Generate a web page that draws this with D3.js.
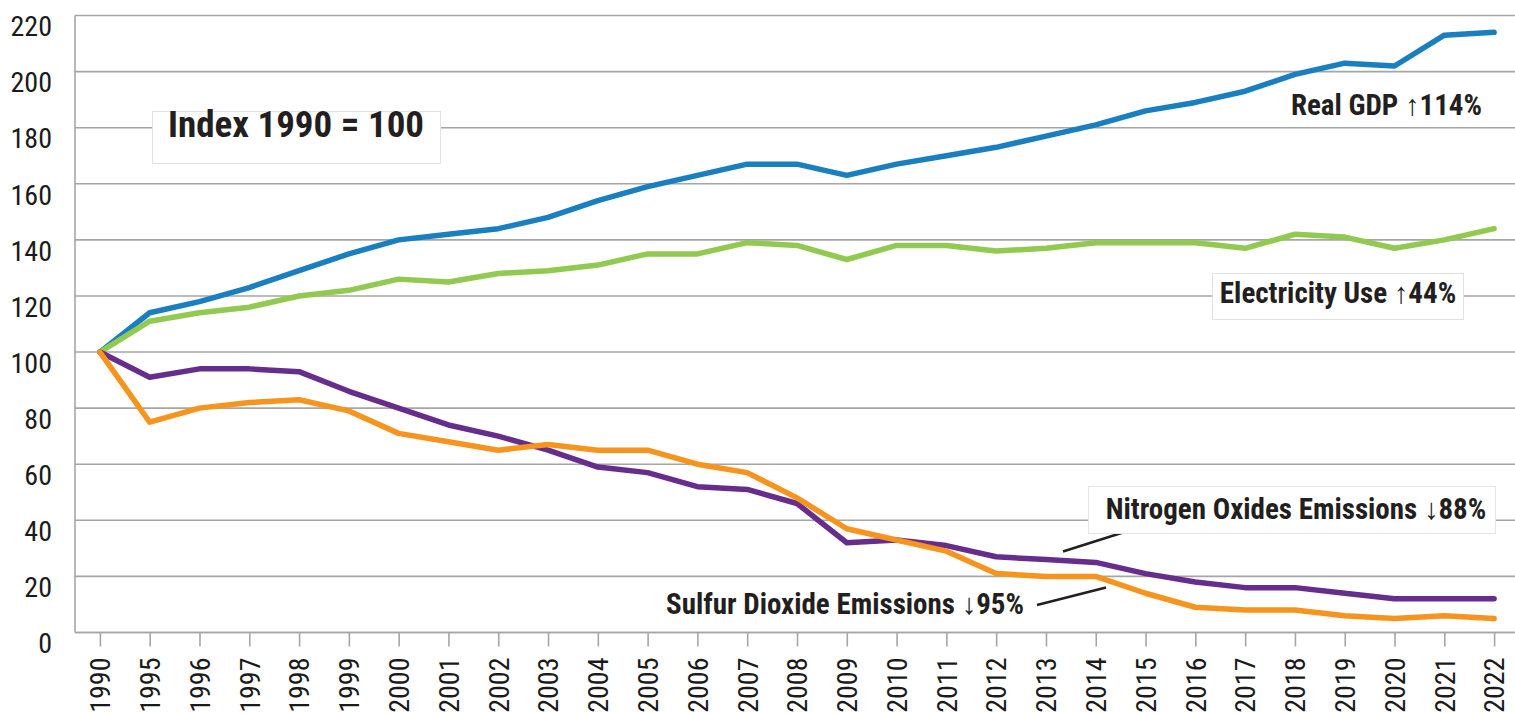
<!DOCTYPE html>
<html>
<head>
<meta charset="utf-8">
<script src="https://cdn.jsdelivr.net/npm/d3@7"></script>
<style>
  body { margin: 0; background: #fff; }
  svg { display: block; }
</style>
</head>
<body>
<div id="grafico"></div>
<script>
/*************************** DADOS ***************************/
var anos = ['1990', '1995', '1996', '1997', '1998', '1999', '2000', '2001', '2002', '2003',
            '2004', '2005', '2006', '2007', '2008', '2009', '2010', '2011', '2012', '2013',
            '2014', '2015', '2016', '2017', '2018', '2019', '2020', '2021', '2022'];

var pib = [100, 114, 118, 123, 129, 135, 140, 142, 144, 148,
           154, 159, 163, 167, 167, 163, 167, 170, 173, 177,
           181, 186, 189, 193, 199, 203, 202, 213, 214];

var eletricidade = [100, 111, 114, 116, 120, 122, 126, 125, 128, 129,
                    131, 135, 135, 139, 138, 133, 138, 138, 136, 137,
                    139, 139, 139, 137, 142, 141, 137, 140, 144];

var nox = [100, 91, 94, 94, 93, 86, 80, 74, 70, 65,
           59, 57, 52, 51, 46, 32, 33, 31, 27, 26,
           25, 21, 18, 16, 16, 14, 12, 12, 12];

var so2 = [100, 75, 80, 82, 83, 79, 71, 68, 65, 67,
           65, 65, 60, 57, 48, 37, 33, 29, 21, 20,
           20, 14, 9, 8, 8, 6, 5, 6, 5];

var ticksY = [0, 20, 40, 60, 80, 100, 120, 140, 160, 180, 200, 220];

/*************************** CONFIGURAÇÃO ***************************/
var largura = 1515, altura = 713;
var fonte = '"Liberation Sans Narrow", "Arial Narrow", "Roboto Condensed", "Liberation Sans", sans-serif';
var cinza = '#a6a6a6';
var preto = '#231f20';

var series = [
    { nome: 'pib', valores: pib, cor: '#1a7fc1' },
    { nome: 'eletricidade', valores: eletricidade, cor: '#92c950' },
    { nome: 'nox', valores: nox, cor: '#672d8c' },
    { nome: 'so2', valores: so2, cor: '#f7941e' }
];

var svg = d3.select('#grafico')
    .append('svg')
    .attr('width', largura)
    .attr('height', altura)
    .style('font-family', fonte);

var x = d3.scalePoint().domain(anos).range([75, 1519]).padding(0.5);
var y = d3.scaleLinear().domain([0, 220]).range([632.5, 15.5]);

// linhas de grade
svg.append('g')
    .selectAll('line')
    .data(ticksY)
    .enter()
    .append('line')
    .attr('x1', 75)
    .attr('x2', largura)
    .attr('y1', function(d) { return y(d); })
    .attr('y2', function(d) { return y(d); })
    .attr('stroke', cinza)
    .attr('stroke-width', 1.6);

// eixo vertical (linha)
svg.append('line')
    .attr('x1', 75).attr('x2', 75)
    .attr('y1', y(220)).attr('y2', y(0))
    .attr('stroke', cinza)
    .attr('stroke-width', 1.6);

// rótulos do eixo Y (um pouco abaixo das linhas, como no original)
svg.append('g')
    .selectAll('text')
    .data(ticksY)
    .enter()
    .append('text')
    .text(function(d) { return d; })
    .attr('x', 52)
    .attr('y', function(d) { return Math.max(y(d) + 11, 17); })
    .attr('dy', '0.35em')
    .attr('text-anchor', 'end')
    .style('font-size', '28px')
    .style('fill', '#1a1a1a');

// eixo X
var eixoX = svg.append('g')
    .attr('transform', 'translate(0,' + y(0) + ')')
    .call(d3.axisBottom(x).tickSize(14).tickPadding(11));

eixoX.select('.domain')
    .attr('d', 'M75,0H' + largura)
    .attr('stroke', cinza)
    .attr('stroke-width', 1.6);
eixoX.selectAll('.tick line').attr('stroke', cinza).attr('stroke-width', 1.6);
eixoX.selectAll('.tick text')
    .style('font-family', fonte)
    .style('font-size', '28px')
    .style('fill', '#1a1a1a')
    .attr('text-anchor', 'end')
    .attr('transform', 'rotate(-90)')
    .attr('x', -25)
    .attr('y', 0)
    .attr('dy', '0.35em');

// linhas das séries
var linha = d3.line()
    .x(function(d, i) { return x(anos[i]); })
    .y(function(d) { return y(d); });

svg.append('g')
    .selectAll('path')
    .data(series)
    .enter()
    .append('path')
    .attr('d', function(d) { return linha(d.valores); })
    .attr('fill', 'none')
    .attr('stroke', function(d) { return d.cor; })
    .attr('stroke-width', 5.5)
    .attr('stroke-linejoin', 'round')
    .attr('stroke-linecap', 'round');

/*************************** ANOTAÇÕES ***************************/
// caixa "Index 1990 = 100"
svg.append('rect')
    .attr('x', 152.5).attr('y', 111.5)
    .attr('width', 288).attr('height', 52)
    .attr('fill', '#fff')
    .attr('stroke', '#e2e2e2');
svg.append('text')
    .text('Index 1990 = 100')
    .attr('x', 296).attr('y', 137)
    .attr('text-anchor', 'middle')
    .style('font-size', '37px')
    .style('font-weight', 'bold')
    .style('fill', preto);

// Real GDP
svg.append('text')
    .text('Real GDP \u2191114%')
    .attr('x', 1482).attr('y', 115)
    .attr('text-anchor', 'end')
    .style('font-size', '29px')
    .style('font-weight', 'bold')
    .style('fill', preto);

// Electricity Use
svg.append('rect')
    .attr('x', 1212.5).attr('y', 273.5)
    .attr('width', 251).attr('height', 46)
    .attr('fill', '#fff')
    .attr('stroke', '#e2e2e2');
svg.append('text')
    .text('Electricity Use \u219144%')
    .attr('x', 1338).attr('y', 303)
    .attr('text-anchor', 'middle')
    .style('font-size', '29px')
    .style('font-weight', 'bold')
    .style('fill', preto);

// Nitrogen Oxides
svg.append('line')
    .attr('x1', 1063).attr('y1', 551.5)
    .attr('x2', 1123).attr('y2', 532.5)
    .attr('stroke', preto)
    .attr('stroke-width', 2.5);
svg.append('rect')
    .attr('x', 1088.5).attr('y', 486.5)
    .attr('width', 407).attr('height', 47)
    .attr('fill', '#fff')
    .attr('stroke', '#e6e6e6');
svg.append('text')
    .text('Nitrogen Oxides Emissions \u219388%')
    .attr('x', 1296).attr('y', 519)
    .attr('text-anchor', 'middle')
    .style('font-size', '29px')
    .style('font-weight', 'bold')
    .style('fill', preto);

// Sulfur Dioxide
svg.append('line')
    .attr('x1', 1037).attr('y1', 605)
    .attr('x2', 1106).attr('y2', 587.5)
    .attr('stroke', preto)
    .attr('stroke-width', 2.5);
svg.append('text')
    .text('Sulfur Dioxide Emissions \u219395%')
    .attr('x', 845).attr('y', 614)
    .attr('text-anchor', 'middle')
    .style('font-size', '29px')
    .style('font-weight', 'bold')
    .style('fill', preto);
</script>
</body>
</html>
